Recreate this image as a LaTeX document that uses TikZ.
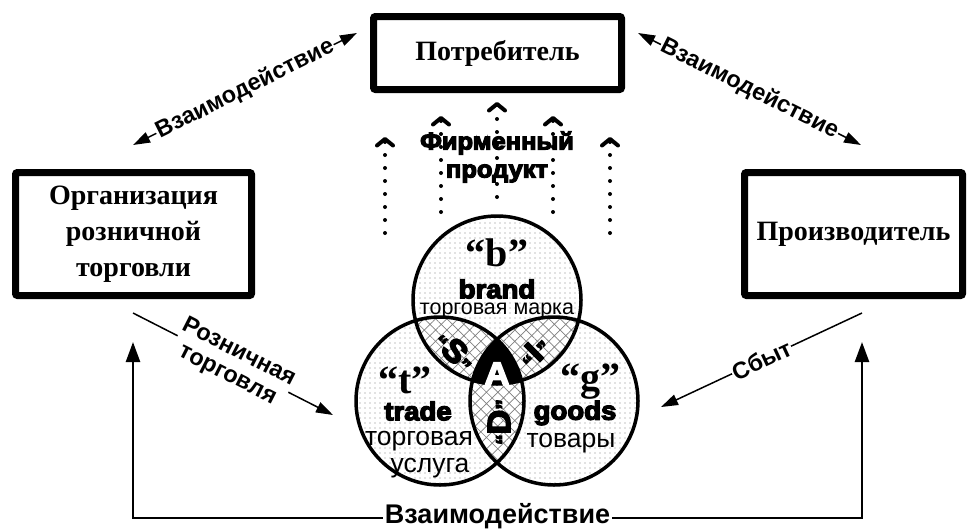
\documentclass[tikz,border=0pt]{standalone}
\usepackage{fontspec}
\setmainfont{Liberation Serif}
\setsansfont{Liberation Sans}
\newfontfamily\heavyfam{Liberation Sans Bold}[FakeBold=5,FakeStretch=1.06]
\usetikzlibrary{patterns.meta,arrows.meta}
\newcommand\fsz[2]{\fontsize{#1}{#2}\selectfont}
\newcommand\smq[1]{{\fsz{20}{20}#1}}
\begin{document}
\begin{tikzpicture}[x=1pt,y=-1pt,
  box/.style={draw, line width=7pt, rounded corners=2pt, font=\bfseries\fsz{28}{36}, align=center, inner sep=0pt},
  dotfill/.style={pattern={Dots[distance=5pt,radius=0.65pt]}, pattern color=gray},
  hatchfill/.style={pattern={Hatch[angle=45,distance=8pt,line width=0.7pt]}, pattern color=gray},
  ring/.style={line width=3.5pt},
  qletter/.style={font=\bfseries\fsz{40}{40}, inner sep=0pt},
  heavy/.style={font=\heavyfam\fsz{24}{28}, inner sep=0pt, align=center},
  latinheavy/.style={font=\heavyfam\fsz{26}{28}, inner sep=0pt},
  plain/.style={font=\sffamily\fsz{26.5}{28}, inner sep=0pt},
  dotarrow/.style={line width=4pt, line cap=round, dash pattern=on 0pt off 13pt,
     -{Straight Barb[length=6.5pt,width=16pt,line width=4pt,round]}},
  link/.style={line width=1.5pt, {Triangle[length=17pt,width=11pt]}-{Triangle[length=17pt,width=11pt]}},
  linkone/.style={line width=1.5pt, -{Triangle[length=17pt,width=11pt]}},
  baseline/.style={line width=2.5pt, {Triangle[length=20pt,width=14pt]}-{Triangle[length=20pt,width=14pt]}},
  lbl/.style={font=\sffamily\bfseries\fsz{23.5}{25}, fill=white, inner sep=1pt, sloped, align=center}
]
\useasboundingbox (0,0) rectangle (974,528);

% boxes
\node[box, minimum width=248, minimum height=73] (cons) at (497.5,53) {Потребитель};
\node[box, minimum width=236, minimum height=123] (retail) at (133.5,234) {Организация\\розничной\\торговли};
\node[box, minimum width=218, minimum height=123] (prod) at (853.5,234) {Производитель};

% circles
\coordinate (cb) at (497,300);
\coordinate (ct) at (440,401);
\coordinate (cg) at (554,401);
\fill[dotfill] (cb) circle (84pt);
\fill[dotfill] (ct) circle (84pt);
\fill[dotfill] (cg) circle (84pt);
\begin{scope}
  \clip (cb) circle (84pt);
  \fill[white] (ct) circle (84pt);
  \fill[hatchfill] (ct) circle (84pt);
  \fill[white] (cg) circle (84pt);
  \fill[hatchfill] (cg) circle (84pt);
\end{scope}
\begin{scope}
  \clip (ct) circle (84pt);
  \fill[white] (cg) circle (84pt);
  \fill[hatchfill] (cg) circle (84pt);
\end{scope}
\begin{scope}
  \clip (cb) circle (84pt);
  \clip (ct) circle (84pt);
  \fill[black] (cg) circle (84pt);
\end{scope}
\draw[ring] (cb) circle (84pt) (ct) circle (84pt) (cg) circle (84pt);

% circle texts
\node[qletter] (qb) at (497,253) {“b”};
\node[latinheavy] (brand) at (497,289) {brand};
\node[plain, font=\sffamily\fsz{21.5}{22}] (tmb) at (497,311) {торговая марка};
\node[qletter] (qt) at (405,380) {“t”};
\node[latinheavy] (trade) at (418,411) {trade};
\node[plain] (tus1) at (419,441) {торговая};
\node[plain] (tus2) at (430,468) {услуга};
\node[qletter] (qg) at (590,382) {“g”};
\node[latinheavy] (goods) at (575,413) {goods};
\node[plain] (tov) at (571,443) {товары};
\node[heavy, rotate=-45, font=\heavyfam\fsz{32}{32}] (qs) at (455,351) {\smq{“}S\smq{”}};
\node[heavy, rotate=45, font=\heavyfam\fsz{32}{32}] (qi) at (534,352) {\smq{“}I\smq{”}};
\node[heavy, rotate=90, font=\heavyfam\fsz{32}{32}] (qd) at (499,422) {\smq{“}D\smq{”}};
\node[heavy, text=white, font=\heavyfam\fsz{33}{33}] (qa) at (497,374) {A};

% dotted arrows
\coordinate (d1s) at (385,233); \coordinate (d1e) at (385,137);
\coordinate (d2s) at (441,212); \coordinate (d2e) at (441,116);
\coordinate (d3s) at (497,197); \coordinate (d3e) at (497,102);
\coordinate (d4s) at (553,212); \coordinate (d4e) at (553,116);
\coordinate (d5s) at (610,233); \coordinate (d5e) at (610,137);
\foreach \i in {1,...,5} \draw[dotarrow] (d\i s) -- (d\i e);
\node[heavy] (firm) at (497,157) {Фирменный\\продукт};

% diagonal links
\coordinate (a1) at (133,145); \coordinate (a2) at (357,33);
\draw[link] (a1) -- node[lbl] (l1) {Взаимодействие} (a2);
\coordinate (b1) at (638,33); \coordinate (b2) at (861,145);
\draw[link] (b1) -- node[lbl] (l2) {Взаимодействие} (b2);
\coordinate (c1) at (133,313); \coordinate (c2) at (333,415);
\draw[linkone] (c1) -- node[lbl, inner sep=0pt] (l3) {Розничная\\торговля} (c2);
\coordinate (e1) at (862,313); \coordinate (e2) at (661,407);
\draw[linkone] (e1) -- node[lbl] (l4) {Сбыт} (e2);

% bottom link
\coordinate (f1) at (133,342); \coordinate (f2) at (133,518);
\coordinate (f3) at (862,518); \coordinate (f4) at (862,342);
\draw[baseline] (f1) -- (f2) -- node[lbl, sloped=false, anchor=base, yshift=-5pt, font=\sffamily\bfseries\fsz{27}{27}, inner sep=2pt] (l5) {Взаимодействие} (f3) -- (f4);
\end{tikzpicture}
\end{document}
